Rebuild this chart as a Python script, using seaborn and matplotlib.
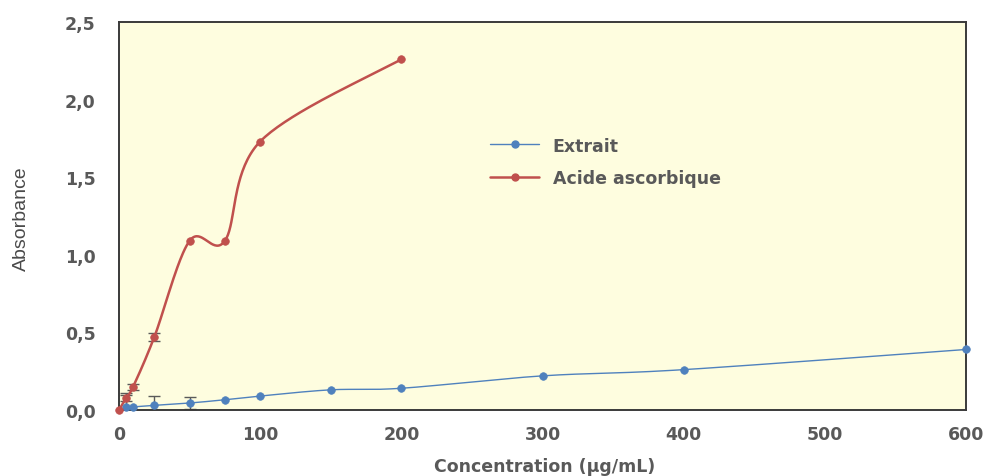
import numpy as np
import pandas as pd
import matplotlib
matplotlib.use("Agg")
import matplotlib.pyplot as plt
from matplotlib.lines import Line2D
from matplotlib.ticker import FuncFormatter
import seaborn as sns

# ---- data ----
extrait_conc = [5, 10, 25, 50, 75, 100, 150, 200, 300, 400, 600]
extrait_abs = [0.02, 0.02, 0.03, 0.045, 0.066, 0.09, 0.13, 0.14, 0.22, 0.26, 0.39]
extrait_err = [0.09, 0.0, 0.06, 0.04, 0.0, 0.0, 0.0, 0.0, 0.0, 0.0, 0.0]

acide_conc = [0, 5, 10, 25, 50, 75, 100, 200]
acide_abs = [0.0, 0.077, 0.15, 0.47, 1.09, 1.09, 1.73, 2.26]
acide_err = [0.0, 0.02, 0.02, 0.025, 0.0, 0.0, 0.0, 0.0]

series_names = ["Extrait", "Acide ascorbique"]
x_ticks = [0, 100, 200, 300, 400, 500, 600]
y_ticks = [0.0, 0.5, 1.0, 1.5, 2.0, 2.5]

BLUE = "#4F81BD"
RED = "#C0504D"
GREY = "#595959"

sns.set_style("white")
plt.rcParams["font.family"] = ["DejaVu Sans"]


def smooth(xs, ys, sx=847 / 600, sy=155.6, n=40):
    """Excel-like smoothed line (Catmull-Rom Bezier) through data points."""
    P = np.column_stack([np.asarray(xs, float) * sx, np.asarray(ys, float) * sy])
    out = [P[0]]
    m = len(P)
    for i in range(m - 1):
        p0 = P[i - 1] if i > 0 else P[i]
        p1 = P[i]
        p2 = P[i + 1]
        p3 = P[i + 2] if i + 2 < m else P[i + 1]
        c1 = p1 + (p2 - p0) / 6
        c2 = p2 - (p3 - p1) / 6
        t = np.linspace(0, 1, n)[1:, None]
        b = ((1 - t) ** 3) * p1 + 3 * ((1 - t) ** 2) * t * c1 + 3 * (1 - t) * t ** 2 * c2 + t ** 3 * p2
        out.extend(b)
    out = np.array(out)
    return out[:, 0] / sx, out[:, 1] / sy


fig = plt.figure(figsize=(9.86, 4.77), dpi=100)
ax = fig.add_axes([119 / 986, 1 - 411 / 477, (966 - 119) / 986, (411 - 23) / 477])
ax.set_facecolor("#FEFDDF")

for xs, ys, errs, col, lw, name in [
    (extrait_conc, extrait_abs, extrait_err, BLUE, 1.0, series_names[0]),
    (acide_conc, acide_abs, acide_err, RED, 1.8, series_names[1]),
]:
    sx_, sy_ = smooth(xs, ys)
    df = pd.DataFrame({"x": sx_, "y": sy_})
    sns.lineplot(data=df, x="x", y="y", ax=ax, color=col, lw=lw, sort=False,
                 estimator=None, zorder=3)
    e = np.array(errs)
    mask = e > 0
    if mask.any():
        ax.errorbar(np.array(xs)[mask], np.array(ys)[mask], yerr=e[mask], fmt="none",
                    ecolor="#5a5a5a", elinewidth=1.0, capsize=4, capthick=1.0, zorder=2)
    pts = pd.DataFrame({"x": xs, "y": ys})
    sns.scatterplot(data=pts, x="x", y="y", ax=ax, color=col, s=30, edgecolor=col,
                    linewidth=0.5, zorder=4, clip_on=False)

ax.set_xlim(0, 600)
ax.set_ylim(0, 2.5)
ax.set_xticks(x_ticks)
ax.set_yticks(y_ticks)
ax.yaxis.set_major_formatter(FuncFormatter(lambda v, p: f"{v:.1f}".replace(".", ",")))
ax.tick_params(axis="both", length=0, labelsize=12.5, labelcolor=GREY)
ax.tick_params(axis="x", pad=11)
ax.tick_params(axis="y", pad=17)
for lab in ax.get_xticklabels() + ax.get_yticklabels():
    lab.set_fontweight("bold")

for side, sp in ax.spines.items():
    sp.set_visible(True)
    sp.set_color("#3a3a3a")
    sp.set_linewidth(1.4)

ax.set_xlabel("Concentration (µg/mL)", fontsize=12.5, fontweight="bold", color=GREY,
              va="center")
ax.xaxis.set_label_coords((545 - 119) / 847, -(467 - 411) / 388)
ax.set_ylabel("Absorbance", fontsize=14, color="#4a4a4a", va="center",
              family=["Liberation Sans", "DejaVu Sans"])
ax.yaxis.set_label_coords(-(119 - 21) / 847, (411 - 219) / 388)

handles = [
    Line2D([0], [0], color=BLUE, lw=1.0, marker="o", markersize=5),
    Line2D([0], [0], color=RED, lw=1.8, marker="o", markersize=5),
]
leg = ax.legend(handles, series_names, loc="upper left", bbox_to_anchor=(0.42, 0.745),
                frameon=False, handlelength=2.8, labelspacing=0.85,
                prop={"weight": "bold", "size": 12.5})
for t in leg.get_texts():
    t.set_color(GREY)

fig.savefig("out.png", dpi=100, facecolor="white")
